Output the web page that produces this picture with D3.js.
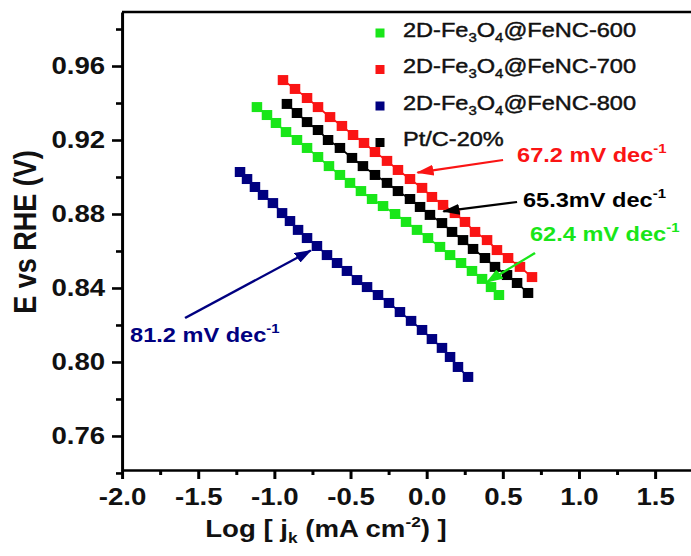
<!DOCTYPE html>
<html>
<head>
<meta charset="utf-8">
<script src="https://cdn.jsdelivr.net/npm/d3@7"></script>
<style>
  html, body { margin: 0; padding: 0; background: #fff; }
  svg { display: block; font-family: "Liberation Sans", Arial, sans-serif; }
</style>
</head>
<body>
<script>
// ---------------- DATA ----------------
const seriesNames = ["600", "700", "800", "Pt/C-20%"];

const logJ600 = [-1.114,-1.048,-0.989,-0.923,-0.851,-0.785,-0.713,-0.641,-0.569,-0.503,-0.431,-0.358,-0.286,-0.207,-0.135,-0.063,0.009,0.088,0.154,0.226,0.298,0.364,0.423,0.475];
const E600    = [0.9378,0.9335,0.9292,0.9243,0.9200,0.9157,0.9108,0.9059,0.9011,0.8968,0.8924,0.8881,0.8843,0.8800,0.8757,0.8714,0.8670,0.8622,0.8578,0.8535,0.8492,0.8449,0.8405,0.8362];

const logJ700 = [-0.943,-0.864,-0.785,-0.713,-0.634,-0.556,-0.483,-0.411,-0.339,-0.260,-0.188,-0.109,-0.030,0.035,0.108,0.186,0.252,0.318,0.397,0.462,0.535,0.613,0.692];
const E700    = [0.9524,0.9476,0.9427,0.9378,0.9324,0.9276,0.9227,0.9184,0.9135,0.9087,0.9038,0.8989,0.8941,0.8892,0.8849,0.8805,0.8757,0.8703,0.8659,0.8605,0.8562,0.8514,0.8459];

const logJ800 = [-1.225,-1.179,-1.127,-1.074,-1.009,-0.949,-0.897,-0.844,-0.785,-0.720,-0.654,-0.588,-0.523,-0.457,-0.391,-0.319,-0.247,-0.175,-0.102,-0.030,0.035,0.101,0.154,0.206,0.272];
const E800    = [0.9027,0.8989,0.8946,0.8903,0.8859,0.8805,0.8762,0.8714,0.8670,0.8627,0.8578,0.8535,0.8492,0.8443,0.8405,0.8362,0.8319,0.8270,0.8222,0.8173,0.8124,0.8076,0.8027,0.7973,0.7919];

const logJPtC = [-0.917,-0.851,-0.785,-0.713,-0.647,-0.569,-0.490,-0.418,-0.339,-0.260,-0.188,-0.109,-0.043,0.022,0.101,0.167,0.239,0.305,0.383,0.449,0.528,0.594,0.666];
const EPtC    = [0.9395,0.9346,0.9297,0.9254,0.9200,0.9157,0.9103,0.9059,0.9011,0.8968,0.8924,0.8881,0.8838,0.8795,0.8751,0.8703,0.8659,0.8611,0.8562,0.8514,0.8470,0.8427,0.8373];

const xTicks = [-2.0,-1.5,-1.0,-0.5,0.0,0.5,1.0,1.5];
const xTickLabels = ["-2.0","-1.5","-1.0","-0.5","0.0","0.5","1.0","1.5"];
const xMinorTicks = [-1.75,-1.25,-0.75,-0.25,0.25,0.75,1.25,1.75];
const yTicks = [0.76,0.80,0.84,0.88,0.92,0.96];
const yTickLabels = ["0.76","0.80","0.84","0.88","0.92","0.96"];
const yMinorTicks = [0.74,0.78,0.82,0.86,0.90,0.94,0.98];

const tafelSlopes = ["62.4 mV dec", "67.2 mV dec", "81.2 mV dec", "65.3mV dec"];
// arrow tail (x1,y1) -> tip (x2,y2), label anchor (tx,ty), in data units
const annotations = [
  {s: 1, tx: 0.594, ty: 0.9081, x1: 0.502, y1: 0.9092, x2: -0.060, y2: 0.9024},
  {s: 3, tx: 0.633, ty: 0.8840, x1: 0.594, y1: 0.8865, x2: 0.110, y2: 0.8814},
  {s: 0, tx: 0.679, ty: 0.8652, x1: 0.712, y1: 0.8589, x2: 0.395, y2: 0.8432},
  {s: 2, tx: -1.947, ty: 0.8108, x1: -1.586, y1: 0.8238, x2: -0.760, y2: 0.8603}
];

// ---------------- STYLE / LAYOUT ----------------
const colors = ["#19e619", "#fa1414", "#000080", "#000000"];
const W = 691, H = 556;
const SX = 1.15; // horizontal stretch of the whole picture
const FONT = "'Liberation Sans', Arial, sans-serif";

const svg = d3.select("body").append("svg").attr("width", W).attr("height", H);
const g = svg.append("g").attr("transform", `scale(${SX},1)`);

const x = d3.scaleLinear().domain([-2, 2]).range([122 / SX, 731.2 / SX]);
const y = d3.scaleLinear().domain([0.7416, 0.9892]).range([470, 12]);

// arrowheads
const defs = svg.append("defs");
colors.forEach((c, i) => {
  defs.append("marker").attr("id", "ah" + i)
    .attr("markerUnits", "userSpaceOnUse")
    .attr("viewBox", "0 0 15 11").attr("refX", 14).attr("refY", 5.5)
    .attr("markerWidth", 15).attr("markerHeight", 11).attr("orient", "auto")
    .append("path").attr("d", "M0,0 L15,5.5 L0,11 Z").attr("fill", c);
});

// ---- series ----
const series = [
  {xs: logJ600, ys: E600},
  {xs: logJ700, ys: E700},
  {xs: logJ800, ys: E800},
  {xs: logJPtC, ys: EPtC}
];
const line = d3.line().x(d => x(d[0])).y(d => y(d[1]));
const MW = 10.5, MH = 10; // marker size in screen px
series.forEach((s, i) => {
  const pts = s.xs.map((v, k) => [v, s.ys[k]]);
  g.append("path").datum(pts).attr("d", line)
    .attr("fill", "none").attr("stroke", colors[i]).attr("stroke-width", 1.6);
  g.selectAll(null).data(pts).enter().append("rect")
    .attr("x", d => x(d[0]) - MW / 2 / SX)
    .attr("y", d => y(d[1]) - MH / 2)
    .attr("width", MW / SX).attr("height", MH)
    .attr("fill", colors[i]);
});

// ---- axes ----
const fmtX = d => xTickLabels[xTicks.indexOf(d)];
const fmtY = d => yTickLabels[yTicks.indexOf(d)];

g.append("g").attr("transform", `translate(0,${y(0.7416)})`)
  .call(d3.axisBottom(x).tickValues(xTicks).tickFormat(fmtX).tickSizeInner(9).tickSizeOuter(0).tickPadding(9));
g.append("g").attr("transform", `translate(0,${y(0.7416)})`)
  .call(d3.axisBottom(x).tickValues(xMinorTicks).tickFormat("").tickSizeInner(5).tickSizeOuter(0))
  .select(".domain").remove();

g.append("g").attr("transform", `translate(${x(-2)},0)`)
  .call(d3.axisLeft(y).tickValues(yTicks).tickFormat(fmtY).tickSizeInner(10 / SX).tickSizeOuter(0).tickPadding(6));
g.append("g").attr("transform", `translate(${x(-2)},0)`)
  .call(d3.axisLeft(y).tickValues(yMinorTicks).tickFormat("").tickSizeInner(6 / SX).tickSizeOuter(0))
  .select(".domain").remove();

g.selectAll(".domain, .tick line").attr("stroke", "#000").attr("stroke-width", 2.6);
g.selectAll(".tick text").attr("font-family", FONT).attr("font-size", 24)
  .attr("font-weight", "bold").attr("fill", "#111");

// top / right frame lines
g.append("line").attr("x1", x(-2)).attr("x2", x(2)).attr("y1", y(0.9892)).attr("y2", y(0.9892))
  .attr("stroke", "#000").attr("stroke-width", 2.6);
g.append("line").attr("x1", x(2)).attr("x2", x(2)).attr("y1", y(0.9892)).attr("y2", y(0.7416))
  .attr("stroke", "#000").attr("stroke-width", 2.6);

// axis titles
g.append("text").attr("transform", `translate(${25 / SX},232) rotate(-90)`)
  .attr("text-anchor", "middle").attr("dominant-baseline", "central")
  .attr("font-family", FONT).attr("font-size", 27).attr("font-weight", "bold").attr("fill", "#111")
  .text("E vs RHE (V)");

const xt = g.append("text").attr("x", 326 / SX).attr("y", 537).attr("text-anchor", "middle")
  .attr("font-family", FONT).attr("font-size", 24).attr("font-weight", "bold").attr("fill", "#111");
xt.append("tspan").text("Log [ j");
xt.append("tspan").attr("font-size", 15).attr("dy", 6).text("k");
xt.append("tspan").attr("dy", -6).text(" (mA cm");
xt.append("tspan").attr("font-size", 15).attr("dy", -10).text("-2");
xt.append("tspan").attr("dy", 10).text(") ]");

// ---- legend ----
const legendLabels = [
  ["2D-Fe", "3", "O", "4", "@FeNC-600"],
  ["2D-Fe", "3", "O", "4", "@FeNC-700"],
  ["2D-Fe", "3", "O", "4", "@FeNC-800"],
  ["Pt/C-20%"]
];
[0, 1, 2, 3].forEach((si, r) => {
  const by = 37 + r * 36.5;
  g.append("rect").attr("x", (380 - 4.5) / SX).attr("y", by - 4 - 4.5)
    .attr("width", 9 / SX).attr("height", 9).attr("fill", colors[si]);
  const t = g.append("text").attr("x", 403 / SX).attr("y", by)
    .attr("font-family", FONT).attr("font-size", 20.5).attr("fill", "#111")
    .attr("stroke", "#111").attr("stroke-width", 0.45);
  const parts = legendLabels[si];
  if (parts.length === 1) t.text(parts[0]);
  else {
    t.append("tspan").text(parts[0]);
    t.append("tspan").attr("font-size", 13).attr("dy", 5).text(parts[1]);
    t.append("tspan").attr("dy", -5).text(parts[2]);
    t.append("tspan").attr("font-size", 13).attr("dy", 5).text(parts[3]);
    t.append("tspan").attr("dy", -5).text(parts[4]);
  }
});

// ---- annotations ----
annotations.forEach(a => {
  g.append("line").attr("x1", x(a.x1)).attr("y1", y(a.y1)).attr("x2", x(a.x2)).attr("y2", y(a.y2))
    .attr("stroke", colors[a.s]).attr("stroke-width", 2.2).attr("marker-end", `url(#ah${a.s})`);
  const t = g.append("text").attr("x", x(a.tx)).attr("y", y(a.ty))
    .attr("font-family", FONT).attr("font-size", 20.5).attr("font-weight", "bold").attr("fill", colors[a.s]);
  t.append("tspan").text(tafelSlopes[a.s]);
  t.append("tspan").attr("font-size", 13).attr("dy", -9).text("-1");
});
</script>
</body>
</html>
